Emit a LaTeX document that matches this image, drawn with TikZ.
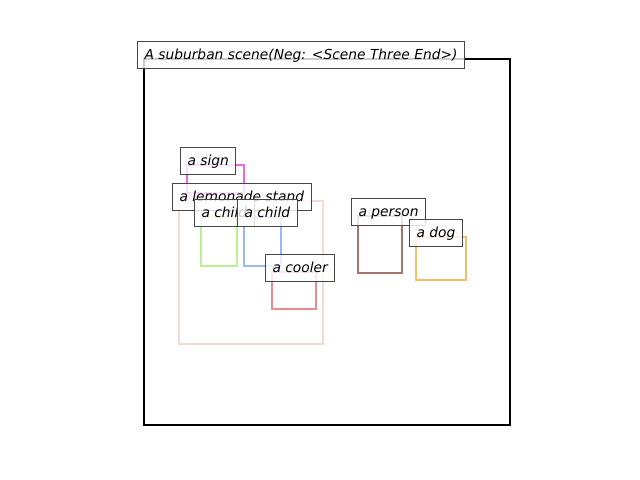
\documentclass[tikz,border=0pt]{standalone}
\usepackage{fontspec}
\setmainfont{DejaVu Sans}
\definecolor{csign}{RGB}{236,104,224}
\definecolor{cstand}{RGB}{240,220,212}
\definecolor{cchilda}{RGB}{186,240,146}
\definecolor{cchildb}{RGB}{152,184,246}
\definecolor{ccooler}{RGB}{236,136,142}
\definecolor{cperson}{RGB}{164,118,110}
\definecolor{cdog}{RGB}{238,194,106}
\tikzset{
  objbox/.style={line width=1.9bp},
  lbl/.style={anchor=base west, draw=black!72, line width=0.75bp, fill=white, fill opacity=0.8, text opacity=1,
    inner xsep=5.25bp, inner ysep=0pt, text height=13.5bp, text depth=6.75bp,
    font=\fontsize{10.4}{12}\selectfont\itshape},
}
\begin{document}
\begin{tikzpicture}[x={(0.75bp,0)},y={(0,-0.75bp)}]
\useasboundingbox (0,0) rectangle (640,480);
\draw[line width=1.9bp] (144,59) rectangle (510,425);
% object boxes
\draw[objbox,csign] (187,165) rectangle (244,193);
\draw[objbox,cstand] (179,201) rectangle (323,344);
\draw[objbox,cchilda] (201,217) rectangle (237,266);
\draw[objbox,cchildb] (244,217) rectangle (281,266);
\draw[objbox,ccooler] (272,272) rectangle (316,309);
\draw[objbox,cperson] (358,216) rectangle (402,273);
\draw[objbox,cdog] (416,237) rectangle (466,280);
% labels
\node[lbl] (title) at (137,59) {A suburban scene(Neg: <Scene Three End>)};
\node[lbl] (sign) at (180,165) {a sign};
\node[lbl] (stand) at (172,201) {a lemonade stand};
\node[lbl] (childa) at (194,217) {a child};
\node[lbl] (childb) at (237,217) {a child};
\node[lbl] (cooler) at (265,272) {a cooler};
\node[lbl] (person) at (351,216) {a person};
\node[lbl] (dog) at (409,237) {a dog};
\end{tikzpicture}
\end{document}
